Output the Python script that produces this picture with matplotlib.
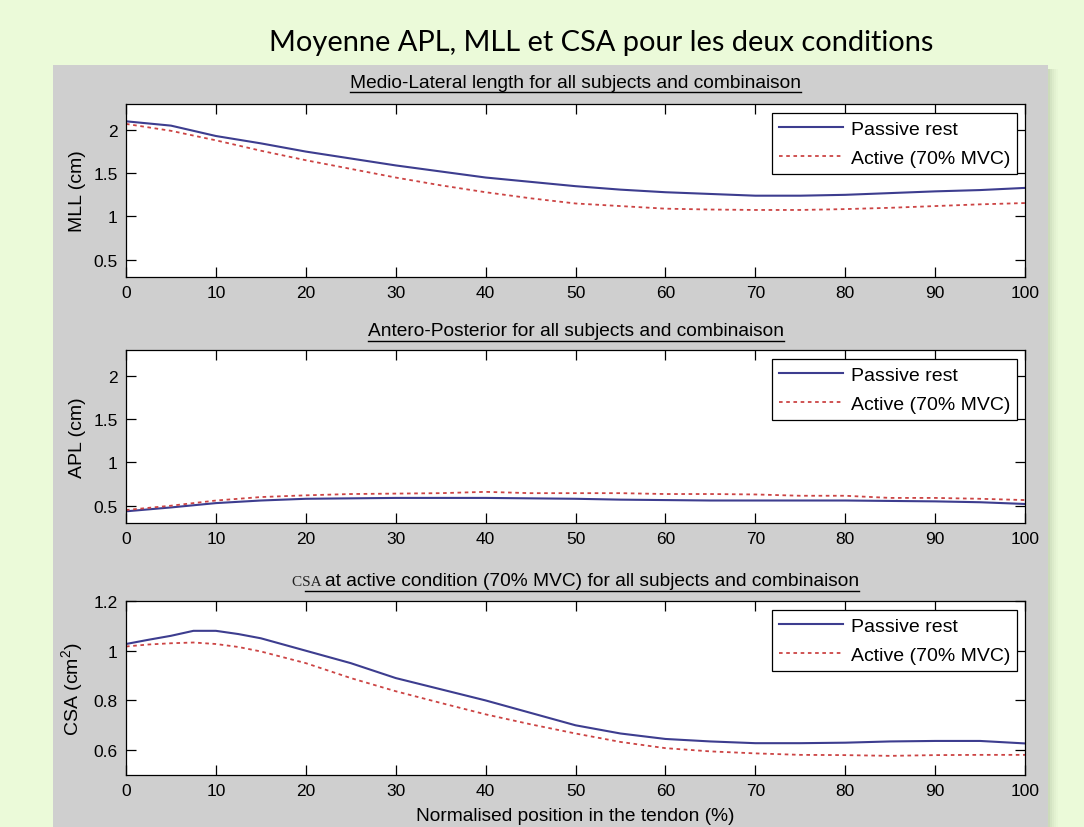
import numpy as np
import matplotlib
matplotlib.use('Agg')
import matplotlib.pyplot as plt
from matplotlib.patches import Rectangle
from matplotlib.lines import Line2D

# Values (every 5 % of tendon length)
position = [0, 5, 10, 15, 20, 25, 30, 35, 40, 45, 50, 55, 60, 65, 70, 75, 80, 85, 90, 95, 100]

mll_passive = [2.10, 2.05, 1.93, 1.845, 1.75, 1.67, 1.59, 1.52, 1.45, 1.40, 1.35,
               1.31, 1.28, 1.26, 1.24, 1.24, 1.25, 1.27, 1.29, 1.305, 1.33]
mll_active = [2.07, 1.99, 1.88, 1.76, 1.65, 1.55, 1.45, 1.36, 1.28, 1.21, 1.15,
              1.12, 1.09, 1.08, 1.075, 1.075, 1.085, 1.10, 1.12, 1.14, 1.155]

apl_passive = [0.435, 0.48, 0.53, 0.56, 0.58, 0.585, 0.59, 0.59, 0.59, 0.585, 0.58,
               0.57, 0.565, 0.56, 0.56, 0.56, 0.56, 0.555, 0.55, 0.54, 0.52]
apl_active = [0.45, 0.50, 0.56, 0.60, 0.62, 0.635, 0.64, 0.645, 0.66, 0.645, 0.645,
              0.645, 0.635, 0.635, 0.63, 0.615, 0.615, 0.59, 0.59, 0.58, 0.565]

csa_position = [0, 2.5, 5, 7.5, 10, 12.5, 15, 20, 25, 30, 35, 40, 45, 50, 55, 60,
                65, 70, 75, 80, 85, 90, 95, 100]
csa_passive = [1.027, 1.044, 1.06, 1.08, 1.08, 1.067, 1.05, 1.00, 0.95, 0.89, 0.845,
               0.80, 0.75, 0.70, 0.667, 0.645, 0.635, 0.628, 0.628, 0.63, 0.635,
               0.637, 0.637, 0.627]
csa_active = [1.017, 1.025, 1.03, 1.033, 1.027, 1.015, 0.997, 0.95, 0.89, 0.837, 0.79,
              0.744, 0.704, 0.667, 0.633, 0.608, 0.595, 0.587, 0.581, 0.58, 0.577,
              0.58, 0.581, 0.581]

# (small prefix, underlined title) for each subplot
titles = [('', 'Medio-Lateral length for all subjects and combinaison'),
          ('', 'Antero-Posterior for all subjects and combinaison'),
          ('CSA ', 'at active condition (70% MVC) for all subjects and combinaison')]
ylabels = ['MLL (cm)', 'APL (cm)', 'CSA (cm$^2$)']
xs_list = [position, position, csa_position]
passive_list = [mll_passive, apl_passive, csa_passive]
active_list = [mll_active, apl_active, csa_active]
ylims = [(0.3, 2.3), (0.3, 2.3), (0.5, 1.2)]
yticks = [[0.5, 1, 1.5, 2], [0.5, 1, 1.5, 2], [0.6, 0.8, 1, 1.2]]
yticklabels = [['0.5', '1', '1.5', '2'], ['0.5', '1', '1.5', '2'], ['0.6', '0.8', '1', '1.2']]

W, H = 1084, 828
plt.rcParams['font.family'] = ['Liberation Sans', 'DejaVu Sans']
plt.rcParams['mathtext.fontset'] = 'custom'
plt.rcParams['mathtext.rm'] = 'Liberation Sans'

fig = plt.figure(figsize=(W / 100, H / 100), dpi=100)
fig.patch.set_facecolor('#ebfad9')

# background axes holding the grey MATLAB panel and its shadow
bg = fig.add_axes([0, 0, 1, 1], zorder=-10)
bg.set_xlim(0, W)
bg.set_ylim(H, 0)
bg.axis('off')
for k, a in enumerate([0.25, 0.18, 0.12, 0.07, 0.03]):
    bg.add_patch(Rectangle((1048 + 2 * k, 70), 2, H - 70, color='#708060', alpha=a, lw=0))
bg.add_patch(Rectangle((53, 66), 995, H - 66, facecolor='#cfcfcf', edgecolor='none'))

fig.text(601 / W, 1 - 43 / H, 'Moyenne APL, MLL et CSA pour les deux conditions',
         ha='center', va='center', fontsize=20.9, family=['Lato', 'DejaVu Sans'])

ax_left, ax_right = 126, 1025
tops = [105, 351, 602]
bottoms = [278, 524, 776]
sub_y = [83, 332, 582]

blue = '#3d3d8f'
red = '#cc4444'

r = fig.canvas.get_renderer()
for i in range(3):
    ax = fig.add_axes([ax_left / W, 1 - bottoms[i] / H, (ax_right - ax_left) / W,
                       (bottoms[i] - tops[i]) / H])
    ax.plot(xs_list[i], passive_list[i], color=blue, lw=1.5, label='Passive rest')
    ax.plot(xs_list[i], active_list[i], color=red, lw=1.3, linestyle=(0, (2, 2)),
            label='Active (70% MVC)')
    ax.set_xlim(0, 100)
    ax.set_ylim(*ylims[i])
    ax.set_xticks(range(0, 101, 10))
    ax.set_yticks(yticks[i])
    ax.set_yticklabels(yticklabels[i])
    ax.tick_params(direction='in', length=7, width=0.9, top=True, right=True,
                   labelsize=12.5, pad=6, colors='black')
    for s in ax.spines.values():
        s.set_linewidth(0.9)
    ax.set_ylabel(ylabels[i], fontsize=14)
    ax.yaxis.set_label_coords(-0.045, 0.5)
    leg = ax.legend(loc='upper right', bbox_to_anchor=(1 - 8 / 899, 1 - 9 / 173),
                    borderaxespad=0, fontsize=14, fancybox=False, framealpha=1,
                    edgecolor='black', handlelength=3.3, handletextpad=0.4,
                    labelspacing=0.6, borderpad=0.36)
    leg.get_frame().set_linewidth(0.9)
    if i == 2:
        ax.set_xlabel('Normalised position in the tendon (%)', fontsize=13.8, labelpad=6)

    # subtitle: optional small prefix + underlined text, centred over the axes
    prefix, main = titles[i]
    y = 1 - sub_y[i] / H
    tm = fig.text(0, y, main, ha='left', va='center', fontsize=13.8)
    wm = tm.get_window_extent(renderer=r).width
    wp = 0
    if prefix:
        tp = fig.text(0, y, prefix, ha='left', va='center', fontsize=11,
                      family=['Liberation Serif', 'DejaVu Serif'], color='#202020')
        wp = tp.get_window_extent(renderer=r).width
    x0 = (ax_left + ax_right) / 2 - (wp + wm) / 2
    if prefix:
        tp.set_x(x0 / W)
        tp.set_y(y - 1 / H)
    tm.set_x((x0 + wp) / W)
    bb = tm.get_window_extent(renderer=r)
    ux0 = bb.x0 - 0.6 * wp
    uy = (bb.y0 - 1) / H
    fig.lines.append(Line2D([ux0 / W, bb.x1 / W], [uy, uy], transform=fig.transFigure,
                            color='black', lw=1))

fig.savefig('out.png', dpi=100, facecolor=fig.get_facecolor())
